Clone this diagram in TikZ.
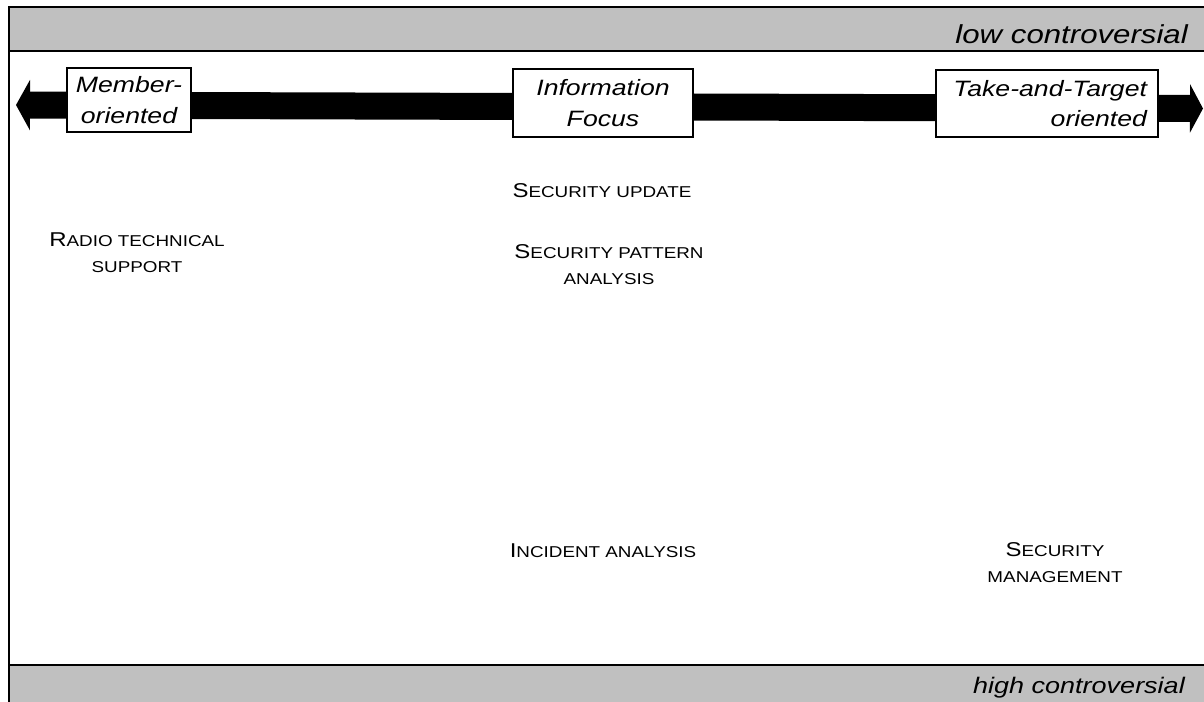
\documentclass[tikz,border=0pt]{standalone}
\usepackage{fontspec}
\setmainfont[FakeStretch=1.2]{Liberation Sans}
\usetikzlibrary{arrows.meta}

\definecolor{bandgray}{HTML}{C0C0C0}

% fake small caps: a larger initial capital followed by smaller capitals
\newcommand{\initcap}[1]{{\fontsize{20}{26}\selectfont #1}}
\newcommand{\restcaps}[1]{{\fontsize{15.7}{26}\selectfont #1}}

\begin{document}
\begin{tikzpicture}[x=1pt,y=-1pt,
  band/.style={fill=bandgray},
  bandlabel/.style={inner sep=0pt, font=\fontsize{26}{30}\selectfont\itshape},
  axisbox/.style={draw=black, line width=1.2pt, fill=white, inner sep=0pt,
    font=\fontsize{22.2}{30.5}\selectfont\itshape},
  item/.style={inner sep=0pt, align=center, font=\fontsize{15.7}{26}\selectfont},
  axis/.style={line width=27pt,
    {Triangle[length=14pt,width=50pt]}-{Triangle[length=13pt,width=48pt]}}]
\useasboundingbox (0,0) rectangle (1204,701);
\clip (0,0) rectangle (1204,701);

% top band
\fill[band] (9,7) rectangle (1230,51);
\draw[line width=1.5pt] (1230,7) -- (9,7) -- (9,51) -- (1230,51);
% left frame line
\draw[line width=2pt] (9,51) -- (9,665);
% bottom band
\fill[band] (9,665) rectangle (1230,720);
\draw[line width=2.3pt] (9,720) -- (9,665) -- (1230,665);

\node[bandlabel, anchor=base east] (low) at (1188,44) {low controversial};
\node[bandlabel, anchor=base east, font=\fontsize{22.5}{28}\selectfont\itshape] (high) at (1185,693) {high controversial};

% double-headed axis
\coordinate (axL) at (16,105);
\coordinate (axR) at (1203,108.5);
\draw[axis] (axL) -- (axR);

% positions on the axis
\node[axisbox, minimum width=124pt, minimum height=64pt, align=center]
  (member) at (129,100) {Member-\\oriented};
\node[axisbox, minimum width=180pt, minimum height=68pt, align=center]
  (info) at (603,103) {Information\\Focus};
\node[axisbox, minimum width=222pt, minimum height=67pt, text width=200pt,
  inner xsep=11pt, align=right]
  (take) at (1047,103.5) {Take-and-Target\\oriented};

% services
\node[item] (radio) at (137,253) {\initcap{R}\restcaps{ADIO TECHNICAL}\\\restcaps{SUPPORT}};
\node[item, anchor=base] (upd) at (602,197) {\initcap{S}\restcaps{ECURITY UPDATE}};
\node[item] (pattern) at (609,265) {\initcap{S}\restcaps{ECURITY PATTERN}\\\restcaps{ANALYSIS}};
\node[item, anchor=base] (incident) at (603,557) {\initcap{I}\restcaps{NCIDENT ANALYSIS}};
\node[item] (mgmt) at (1055,563) {\initcap{S}\restcaps{ECURITY}\\\restcaps{MANAGEMENT}};
\end{tikzpicture}
\end{document}
